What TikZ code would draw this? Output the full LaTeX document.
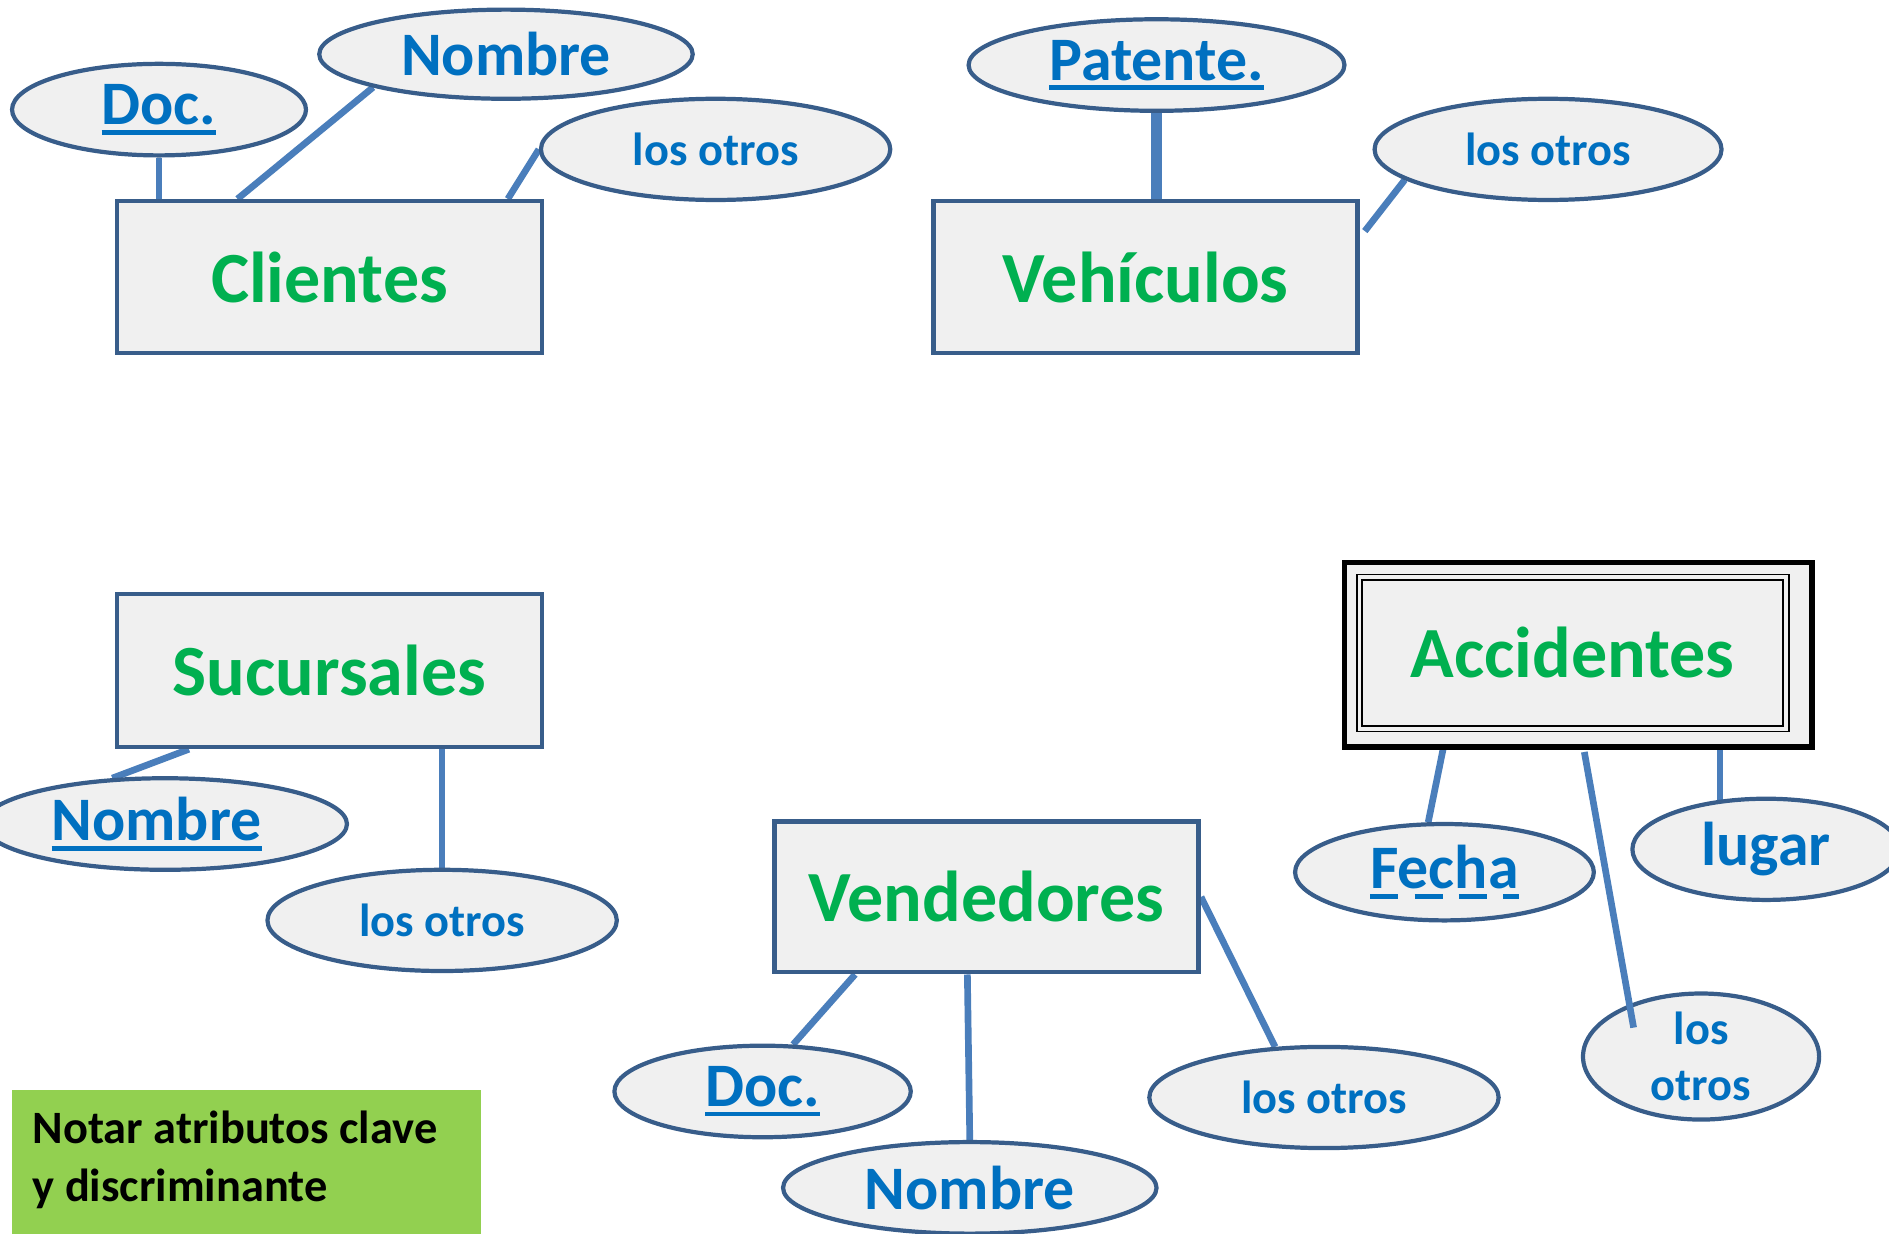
\documentclass[tikz,border=0pt]{standalone}
\usepackage{fontspec}
\setmainfont{Carlito}
\usetikzlibrary{shapes.geometric,calc}
\pgfdeclarelayer{background}
\pgfsetlayers{background,main}
\definecolor{bord}{HTML}{385D8A}
\definecolor{conn}{HTML}{4A7EBB}
\definecolor{attrtxt}{HTML}{0070C0}
\definecolor{enttxt}{HTML}{00B050}
\definecolor{boxfill}{HTML}{F0F0F0}
\definecolor{notefill}{HTML}{92D050}
\newcommand\myul[1]{\leavevmode\setbox0=\hbox{#1}\rlap{\rule[-2.8pt]{\wd0}{1.3pt}}\box0}
\newcommand\mydul[1]{\leavevmode\setbox0=\hbox{#1}\rlap{\raisebox{-2.8pt}{\hbox to \wd0{\rule{8pt}{1.3pt}\hfil\rule{8pt}{1.3pt}\hfil\rule{8pt}{1.3pt}\hfil\rule{4.4pt}{1.3pt}}}}\box0}
\begin{document}
\begin{tikzpicture}[x=0.12047mm,y=-0.12047mm,
  sz/.style 2 args={minimum width=#1*0.12047mm, minimum height=#2*0.12047mm},
  ent/.style={rectangle, draw=bord, line width=1.3pt, fill=boxfill, text=enttxt, inner sep=0pt,
    font=\fontsize{20.5}{24}\selectfont\bfseries},
  attr/.style={ellipse, draw=bord, line width=1.2pt, fill=boxfill, text=attrtxt, inner sep=0pt,
    font=\fontsize{17.6}{21}\selectfont\bfseries},
  smalltxt/.style={font=\fontsize{13.2}{16}\selectfont\bfseries, align=center},
  conline/.style={draw=conn, line width=1.9pt},
]
\useasboundingbox (0,0) rectangle (1568,1024);

% Clientes
\node[ent, sz={353}{126}] (cli) at (273.5,230) {Clientes};
\node[attr, sz={244}{76}] (doc1) at (132,91) {\myul{Doc.}};
\node[attr, sz={310}{74}] (nom1) at (420,45) {Nombre};
\node[attr, smalltxt, sz={290}{84}] (ot1) at (594,124) {los otros};

% Vehiculos
\node[ent, sz={352}{126}] (veh) at (951,230) {Vehículos};
\node[attr, sz={312}{76}] (pat) at (960,54) {\myul{Patente.}};
\node[attr, smalltxt, sz={288}{84}] (ot2) at (1285,124) {los otros};

% Sucursales
\node[ent, sz={353}{127}] (suc) at (273.5,556.5) {Sucursales};
\node[attr, sz={302}{76}] (nom2) at (137,684) {\myul{Nombre}\kern4.8pt};
\node[attr, smalltxt, sz={290}{84}] (ot3) at (367,764) {los otros};

% Vendedores
\node[ent, sz={352}{125}] (ven) at (819,744.5) {Vendedores};
\node[attr, sz={246}{76}] (vdoc) at (633,906) {\myul{Doc.}};
\node[attr, sz={310}{76}] (vnom) at (805,986) {Nombre};
\node[attr, smalltxt, sz={290}{84}] (vot) at (1099,911) {los otros};

% Accidentes (entidad debil)
\node[rectangle, draw=black, line width=1.5pt, fill=boxfill, sz={388}{153}] (acc) at (1310,543.5) {};
\node[ent, draw=black, fill=none, double=boxfill, double distance=1.1pt, line width=0.45pt,
  sz={354}{126}] (accin) at (1305.5,542) {Accidentes};
\node[attr, sz={248}{80}] (fecha) at (1199,724) {\mydul{Fecha}};
\node[attr, sz={222}{84}] (lugar) at (1466,705) {lugar};
\node[attr, smalltxt, sz={196}{84}] (aot) at (1412,877) {los\\otros};

% Nota
\node[rectangle, fill=notefill, sz={389}{122}, inner sep=0pt] (note) at (204.5,966) {};
\node[anchor=west, align=left, inner sep=0pt, text=black,
  font=\fontsize{13.2}{16.4}\selectfont\bfseries] (notetxt) at ($(note.west)+(17,-3)$) {Notar atributos clave\\y discriminante};

% Conectores
\begin{pgfonlayer}{background}
\draw[conline] (doc1.south) -- (doc1.south |- cli.north);
\draw[conline] (nom1.194) -- ($(cli.north west)!0.286!(cli.north east)$);
\draw[conline] (ot1.west) -- ($(cli.north west)!0.915!(cli.north east)$);
\draw[conline, line width=3.2pt] (pat.south) -- (pat.south |- veh.north);
\draw[conline] (ot2.192) -- ($(veh.north east)!0.206!(veh.south east)+(4,0)$);
\draw[conline] (nom2.139) -- ($(suc.south west)!0.173!(suc.south east)$);
\draw[conline] (ot3.north) -- (ot3.north |- suc.south);
\draw[conline] ($(ven.south west)!0.193!(ven.south east)$) -- (vdoc.57);
\draw[conline] ($(ven.south west)!0.455!(ven.south east)$) -- (vnom.north);
\draw[conline] (ven.east) -- (vot.134);
\draw[conline] (fecha.108) -- ($(acc.south west)!0.214!(acc.south east)$);
\draw[conline] (lugar.133) -- (lugar.133 |- acc.south);
\end{pgfonlayer}
\draw[conline] ($(acc.south west)!0.513!(acc.south east)+(0,2)$) -- ($(aot.center)+(-56,-24)$);
\end{tikzpicture}
\end{document}
